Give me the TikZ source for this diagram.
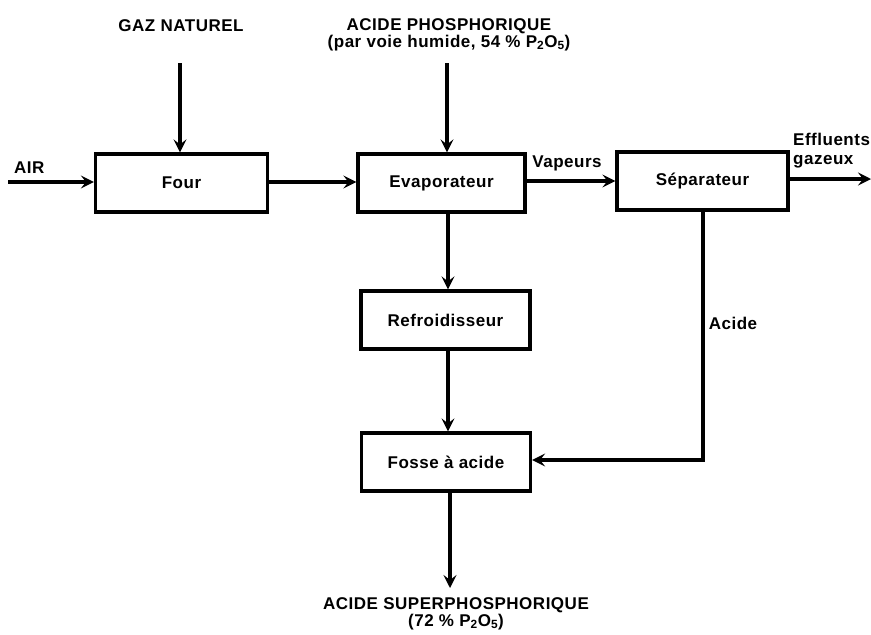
\documentclass[tikz,border=0pt]{standalone}
\usepackage{fontspec}
\setmainfont{Liberation Sans}[LetterSpace=3]
\usetikzlibrary{arrows.meta}
\begin{document}
\begin{tikzpicture}[x=1pt,y=-1pt,
  font=\fontsize{17}{19}\selectfont\bfseries,
  unit/.style={draw,line width=3.2pt,minimum height=58pt,inner sep=0pt},
  flow/.style={line width=3.2pt,-{Stealth[length=13pt,width=13pt,inset=5pt]}},
  lbl/.style={inner sep=0pt}]
\useasboundingbox (0,0) rectangle (871,635);

% process units
\node[unit,minimum width=172pt] (four)  at (181.5,183) {Four};
\node[unit,minimum width=167pt] (evap)  at (441.5,183) {Evaporateur};
\node[unit,minimum width=171pt] (sep)   at (702.5,181) {Séparateur};
\node[unit,minimum width=169pt] (refr)  at (445.5,320) {Refroidisseur};
\node[unit,minimum width=169pt] (fosse) at (446,462)   {Fosse à acide};

% feeds and products
\node[lbl] (gaz) at (181,26) {GAZ NATUREL};
\node[lbl] (acph) at (449,26) {ACIDE PHOSPHORIQUE};
\node[lbl] (acph2) at (449,43) {(par voie humide, 54 \% P\textsubscript{2}O\textsubscript{5})};
\node[lbl,anchor=west] (air) at (14,168) {AIR};
\node[lbl] (vap) at (567,163) {Vapeurs};
\node[lbl,anchor=west] (eff) at (793,139) {Effluents};
\node[lbl,anchor=west] (gzx) at (793,162) {gazeux};
\node[lbl] (acd) at (733,323) {Acide};
\node[lbl] (sup) at (456,605) {ACIDE SUPERPHOSPHORIQUE};
\node[lbl] (sup2) at (456,622) {(72 \% P\textsubscript{2}O\textsubscript{5})};

% free ends of the connectors
\coordinate (airin) at (8,182);
\coordinate (gazin) at (180,63);
\coordinate (acin) at (447,63);
\coordinate (effout) at (871,179);
\coordinate (supout) at (450,588);
\coordinate (bend) at (703,460);

% connectors
\draw[flow] (airin) -- (airin -| four.west);
\draw[flow] (gazin) -- (gazin |- four.north);
\draw[flow] (acin) -- (acin |- evap.north);
\draw[flow] (four.east |- 0,182) -- (evap.west |- 0,182);
\draw[flow] (evap.east |- 0,181) -- (sep.west |- 0,181);
\draw[flow] (sep.east |- effout) -- (effout);
\draw[flow] (evap.south -| 448,0) -- (refr.north -| 448,0);
\draw[flow] (refr.south -| 448,0) -- (fosse.north -| 448,0);
\draw[flow] (sep.south -| bend) -- (bend) -- (fosse.east |- bend);
\draw[flow] (fosse.south -| supout) -- (supout);
\end{tikzpicture}
\end{document}
